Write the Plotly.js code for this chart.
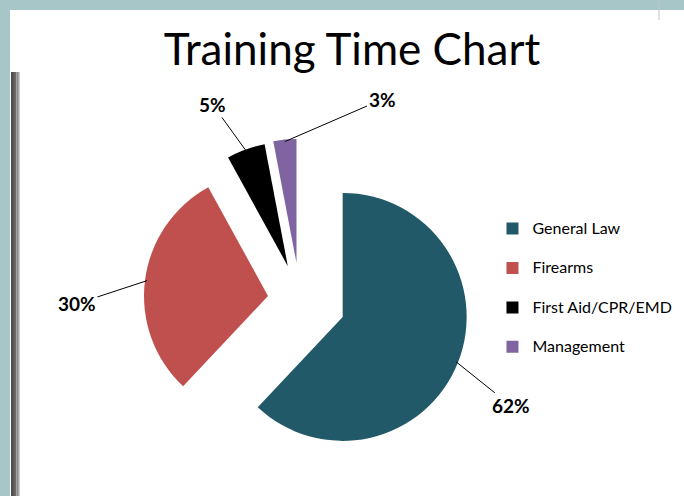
<!DOCTYPE html>
<html>
<head>
<meta charset="utf-8">
<script src="https://cdn.plot.ly/plotly-3.0.1.min.js"></script>
<style>
  html, body { margin: 0; padding: 0; background: #ffffff; }
  #chart { width: 684px; height: 496px; }
</style>
</head>
<body>
<div id="chart"></div>
<script>
// ---- data ----
const categories = ['General Law', 'Firearms', 'First Aid/CPR/EMD', 'Management'];
const percents = [62, 30, 5, 3];
const percentLabels = ['62%', '30%', '5%', '3%'];

// ---- styles ----
const sliceColors = ['#215968', '#C0504D', '#000000', '#8064A2'];
const slicePulls = [0.37, 0.26, 0.29, 0.30];
const labelOffsets = [[55, 44], [-70, 23], [-34, -47], [97, -42]];

const W = 684, H = 496;
const pieCx = 300, pieCy = 300, pieR = 124;
const maxPull = Math.max.apply(null, slicePulls);
const half = pieR * (1 + maxPull);
const domX = [(pieCx - half) / W, (pieCx + half) / W];
const domY = [1 - (pieCy + half) / H, 1 - (pieCy - half) / H];

const total = percents.reduce((a, b) => a + b, 0);
let cum = 0;
const annotations = percents.map((v, i) => {
  const mid = 2 * Math.PI * (cum + v / 2) / total;
  cum += v;
  const ux = Math.sin(mid), uy = -Math.cos(mid);
  const d = pieR * (1 + slicePulls[i]) - 2;
  const px = pieCx + d * ux, py = pieCy + d * uy;
  return {
    x: px / W, y: 1 - py / H, xref: 'paper', yref: 'paper',
    text: '<b>' + percentLabels[i] + '</b>',
    showarrow: true, arrowhead: 0, arrowwidth: 1, arrowcolor: '#000000',
    ax: labelOffsets[i][0], ay: labelOffsets[i][1], standoff: 0,
    font: {family: 'Lato, sans-serif', size: 19, color: '#000000'}
  };
});

const shapes = [
  {type: 'rect', xref: 'paper', yref: 'paper', x0: 0, x1: 1, y0: 1 - 10 / H, y1: 1,
   fillcolor: '#A7C6C7', line: {width: 0}, layer: 'below'},
  {type: 'rect', xref: 'paper', yref: 'paper', x0: 0, x1: 10 / W, y0: 0, y1: 1,
   fillcolor: '#A7C6C7', line: {width: 0}, layer: 'below'}
];
const barShades = ['#505050', '#5e5e5e', '#6e6e6e', '#8a8a8a', '#a8a8a8', '#c8c8c8'];
const barX = [11, 13, 15, 16.5, 18, 19, 20];
barShades.forEach((c, i) => {
  shapes.push({type: 'rect', xref: 'paper', yref: 'paper', x0: barX[i] / W, x1: barX[i + 1] / W,
    y0: 0, y1: 1 - 72 / H, fillcolor: c, line: {width: 0}, layer: 'below'});
});
shapes.push({type: 'line', xref: 'paper', yref: 'paper', x0: 659 / W, x1: 659 / W, y0: 1 - 20 / H, y1: 1,
  line: {color: '#C4C0DA', width: 1}});

const trace = {
  type: 'pie',
  labels: categories.map(c => '<span style="font-size:16px">' + c + '</span><br> '),
  values: percents,
  sort: false,
  direction: 'clockwise',
  rotation: 0,
  pull: slicePulls,
  marker: {colors: sliceColors, line: {width: 0}},
  textinfo: 'none',
  hoverinfo: 'label+percent',
  domain: {x: domX, y: domY}
};

const layout = {
  width: W, height: H,
  margin: {l: 0, r: 0, t: 0, b: 0},
  paper_bgcolor: '#ffffff',
  plot_bgcolor: '#ffffff',
  title: {text: 'Training Time Chart', font: {family: 'Lato, sans-serif', size: 44, color: '#000000'},
          x: 352 / W, xanchor: 'center', y: 1 - 50 / H, yanchor: 'middle', yref: 'container'},
  showlegend: true,
  legend: {x: 0.72, xanchor: 'left', y: 1 - 213 / H, yanchor: 'top', valign: 'top',
           font: {family: 'Lato, sans-serif', size: 14, color: '#000000'},
           bgcolor: 'rgba(0,0,0,0)', traceorder: 'normal'},
  shapes: shapes,
  annotations: annotations
};

Plotly.newPlot('chart', [trace], layout, {displayModeBar: false, staticPlot: true});
</script>
</body>
</html>
